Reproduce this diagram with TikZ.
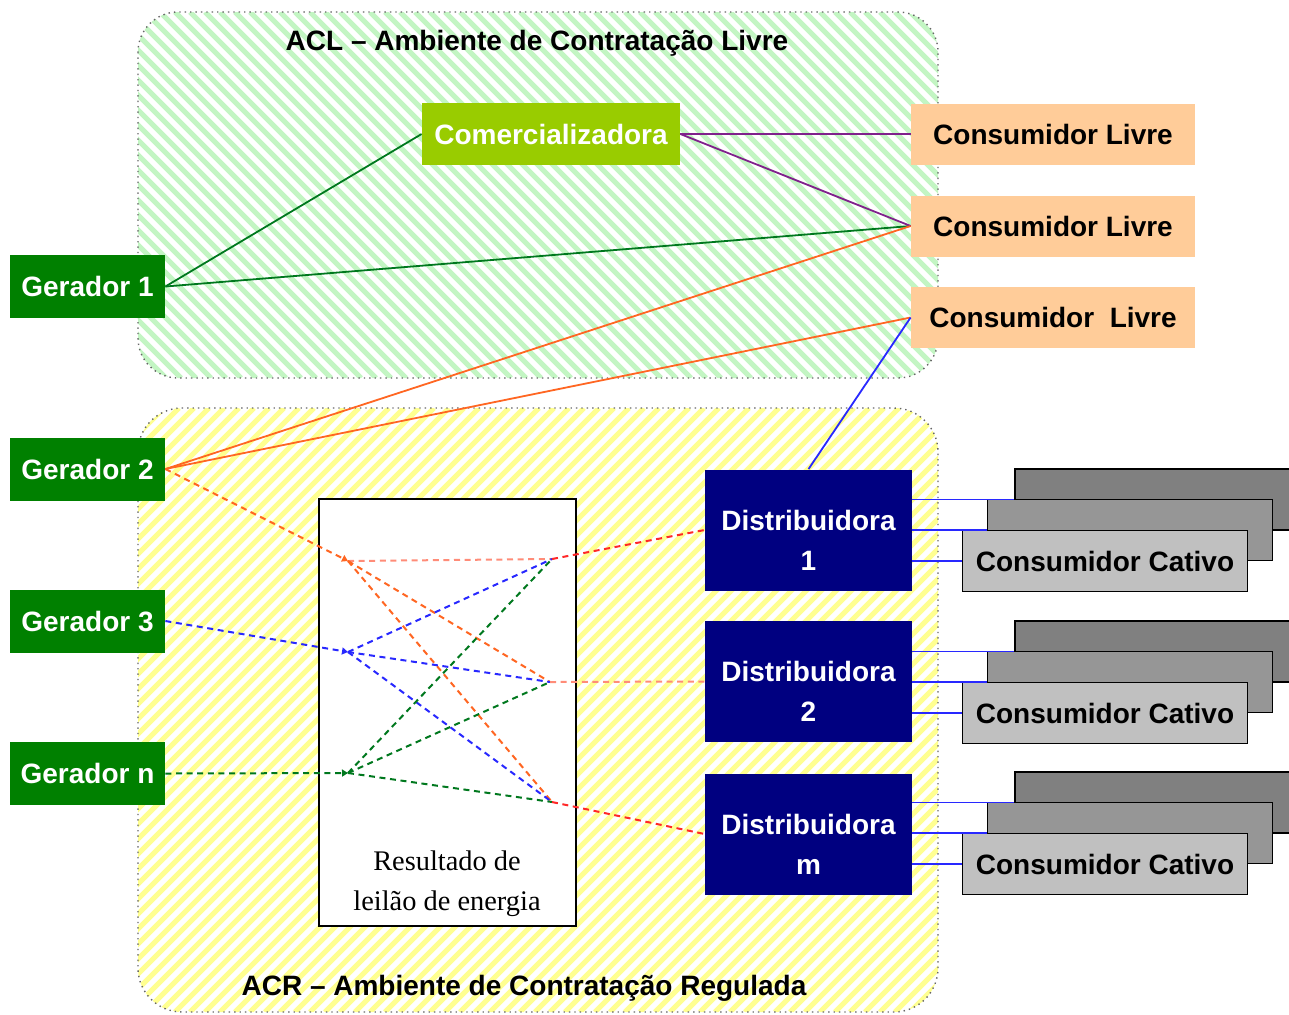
\documentclass[tikz,border=0pt]{standalone}
\usepackage{fontspec}
\setmainfont{Liberation Sans}
\newfontfamily\serifface{Liberation Serif}
\usetikzlibrary{arrows.meta,calc}

\definecolor{aclstripe}{RGB}{195,245,195}
\definecolor{acrstripe}{RGB}{255,255,145}
\definecolor{comgreen}{RGB}{153,204,0}
\definecolor{gergreen}{RGB}{0,128,0}
\definecolor{peach}{RGB}{255,204,153}
\definecolor{distnavy}{RGB}{0,0,128}
\definecolor{linegreen}{RGB}{0,120,30}
\definecolor{linepurple}{RGB}{128,32,140}
\definecolor{lineorange}{RGB}{255,102,34}
\definecolor{lineblue}{RGB}{40,40,255}
\definecolor{linesalmon}{RGB}{255,140,120}
\definecolor{linered}{RGB}{255,40,40}
\definecolor{cativoA}{RGB}{128,128,128}
\definecolor{cativoB}{RGB}{150,150,150}
\definecolor{cativoC}{RGB}{192,192,192}

\tikzset{
  box/.style={inner sep=0pt, font=\bfseries\fontsize{14}{20}\selectfont},
  gen/.style={box, fill=gergreen, text=white, minimum width=77.5pt, minimum height=31.5pt},
  comer/.style={box, fill=comgreen, text=white, minimum width=129pt, minimum height=31pt},
  livre/.style={box, fill=peach, text=black, minimum width=142pt, minimum height=30.5pt},
  dist/.style={box, fill=distnavy, minimum width=103.5pt, minimum height=60.5pt},
  disttext/.style={box, text=white, align=center},
  cativo/.style={box, draw=black, line width=0.7pt, minimum width=142.5pt, minimum height=30.5pt},
  regionborder/.style={draw=gray!80!black, dotted, line width=0.7pt},
  stripe/.style={line width=2.6pt},
  solidlink/.style={line width=0.9pt},
  dashlink/.style={line width=1pt, dash pattern=on 3pt off 2.3pt},
  junction/.style={-{Triangle[length=3pt,width=3.5pt]}},
  title/.style={font=\bfseries\fontsize{14}{16}\selectfont}
}

\begin{document}
\begin{tikzpicture}[x=0.5pt,y=-0.5pt]
\clip (0,0) rectangle (1289,1014);

% ---- ACL region (light green stripes) ----
\begin{scope}
  \clip[rounded corners=20pt] (138,12) rectangle (938,378);
  \foreach \s in {-380,-365,...,940}
    \draw[aclstripe, stripe] (\s,12) -- ++(366,366);
\end{scope}
\draw[regionborder, rounded corners=20pt] (138,12) rectangle (938,378);
\node[title] (acltitle) at (537,43) {ACL – Ambiente de Contratação Livre};

% ---- ACR region (light yellow stripes) ----
\begin{scope}
  \clip[rounded corners=22pt] (138,408) rectangle (938,1012);
  \foreach \s in {-470,-455,...,940}
    \draw[acrstripe, stripe] (\s,1012) -- ++(604,-604);
\end{scope}
\draw[regionborder, rounded corners=22pt] (138,408) rectangle (938,1012);
\node[title] (acrtitle) at (524,988) {ACR – Ambiente de Contratação Regulada};

% ---- auction result box ----
\node[draw=black, line width=0.9pt, fill=white, minimum width=128.5pt, minimum height=213.5pt, inner sep=0pt] (res) at (447.5,712.5) {};
\node[align=center, font=\serifface\fontsize{14.2}{20}\selectfont] (restext) at (447,884) {Resultado de\\leilão de energia};

% ---- generators ----
\node[gen] (g1) at (87.5,286.5) {Gerador 1};
\node[gen] (g2) at (87.5,469) {Gerador 2};
\node[gen] (g3) at (87.5,621) {Gerador 3};
\node[gen] (gn) at (87.5,773.5) {Gerador n};

% ---- trader and free consumers ----
\node[comer] (com) at (551,134) {Comercializadora};
\node[livre] (cl1) at (1053,134) {Consumidor Livre};
\node[livre] (cl2) at (1053,226) {Consumidor Livre};
\node[livre] (cl3) at (1053,317.5) {Consumidor~~Livre};

% ---- distributors ----
\node[dist] (d1) at (808.5,530) {};
\node[dist] (d2) at (808.5,681.5) {};
\node[dist] (d3) at (808.5,834) {};
\node[disttext] (d1t) at ($(d1.center)+(0,10)$) {Distribuidora\\1};
\node[disttext] (d2t) at ($(d2.center)+(0,10)$) {Distribuidora\\2};
\node[disttext] (d3t) at ($(d3.center)+(0,10)$) {Distribuidora\\m};

% ---- captive consumer stacks ----
\foreach \k/\off in {1/0,2/152,3/303} {
  \node[cativo, fill=cativoA] (cb\k) at (1157.5,499.5+\off) {};
  \node[cativo, fill=cativoB] (cm\k) at (1130,530+\off) {};
  \node[cativo, fill=cativoC] (cf\k) at (1105,561+\off) {Consumidor Cativo};
  \draw[lineblue, solidlink] (d\k.east |- cb\k.west) -- (cb\k.west);
  \draw[lineblue, solidlink] (d\k.east |- cm\k.west) -- (cm\k.west);
  \draw[lineblue, solidlink] (d\k.east |- cf\k.west) -- (cf\k.west);
}

% ---- bilateral (free market) contracts ----
\draw[linegreen, solidlink] (g1.east) -- (com.west);
\draw[linegreen, solidlink] (g1.east) -- (cl2.west);
\draw[linepurple, solidlink] (com.east) -- (cl1.west);
\draw[linepurple, solidlink] (com.east) -- (cl2.west);
\draw[lineorange, solidlink] (g2.east) -- (cl2.west);
\draw[lineorange, solidlink] (g2.east) -- (cl3.west);
\draw[lineblue, solidlink] (d1.north) -- (cl3.west);

% ---- auction junction points ----
\coordinate (ja) at (348,561);
\coordinate (jb) at (348,652);
\coordinate (jc) at (348,773);
\coordinate (ka) at (552,559);
\coordinate (kb) at (550,682);
\coordinate (kc) at (552,802);

\draw[lineorange, dashlink, junction] (g2.east) -- (ja);
\draw[lineblue, dashlink, junction] (g3.east) -- (jb);
\draw[linegreen, dashlink, junction] (gn.east) -- (jc);

\draw[linesalmon, dashlink] (ja) -- (ka);
\draw[lineorange, dashlink] (ja) -- (kb);
\draw[lineorange, dashlink] (ja) -- (kc);
\draw[lineblue, dashlink] (jb) -- (ka);
\draw[lineblue, dashlink] (jb) -- (kb);
\draw[lineblue, dashlink] (jb) -- (kc);
\draw[linegreen, dashlink] (jc) -- (ka);
\draw[linegreen, dashlink] (jc) -- (kb);
\draw[linegreen, dashlink] (jc) -- (kc);

\draw[linered, dashlink] (ka) -- (d1.west);
\draw[linesalmon, dashlink] (kb) -- (d2.west);
\draw[linered, dashlink] (kc) -- (d3.west);
\end{tikzpicture}
\end{document}
